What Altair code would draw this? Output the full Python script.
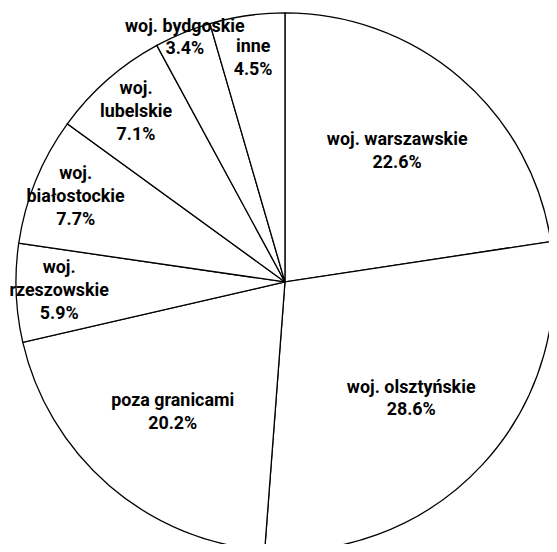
import altair as alt
import pandas as pd

# Slices in drawing order, clockwise from 12 o'clock
categories = [
    "woj. warszawskie",
    "woj. olsztyńskie",
    "poza granicami",
    "woj.\nrzeszowskie",
    "woj.\nbiałostockie",
    "woj.\nlubelskie",
    "woj. bydgoskie",
    "inne",
]
shares = [22.6, 28.6, 20.2, 5.9, 7.7, 7.1, 3.4, 4.5]

df = pd.DataFrame({
    "category": categories,
    "share": shares,
    "order": list(range(len(categories))),
})

CX, CY, R = 279, 274, 271
LH = 23
FONT = "Roboto"

theta_scale = alt.Scale(domain=[0, 100], range=[0, 6.283185307179586])

base = alt.Chart(df).transform_window(
    end="sum(share)", sort=[alt.SortField("order", order="ascending")],
    frame=[None, 0],
).transform_calculate(
    start="datum.end - datum.share",
    mid="datum.end - datum.share / 2",
    label="datum.category + '\\n' + format(datum.share, '.1f') + '%'",
    r=f"datum.share >= 15 ? {0.64 * R} : (datum.share < 4 ? {0.98 * R} : {0.84 * R})",
).transform_calculate(
    ang="datum.mid / 100 * 2 * PI",
    nlines="length(split(datum.label, '\\n'))",
).transform_calculate(
    lx=f"{CX} + datum.r * sin(datum.ang)",
    ly=f"{CY} - datum.r * cos(datum.ang) - (datum.nlines - 1) / 2 * {LH}",
)

pie = base.mark_arc(
    outerRadius=R, fill="white", stroke="black", strokeWidth=1.3
).encode(
    x=alt.value(CX), y=alt.value(CY),
    theta=alt.Theta("start:Q", scale=theta_scale),
    theta2="end:Q",
)

labels = base.mark_text(
    font=FONT, fontWeight="bold", fontSize=18, lineBreak="\n", lineHeight=LH,
    align="center", baseline="middle", color="black",
).encode(
    x=alt.X("lx:Q", scale=None),
    y=alt.Y("ly:Q", scale=None),
    text="label:N",
)

chart = alt.layer(pie, labels).properties(
    width=545, height=536,
    autosize=alt.AutoSizeParams(type="none"),
    padding=0,
).configure_view(stroke=None)

chart.save("out.html", embed_options={"renderer": "svg", "actions": False})
